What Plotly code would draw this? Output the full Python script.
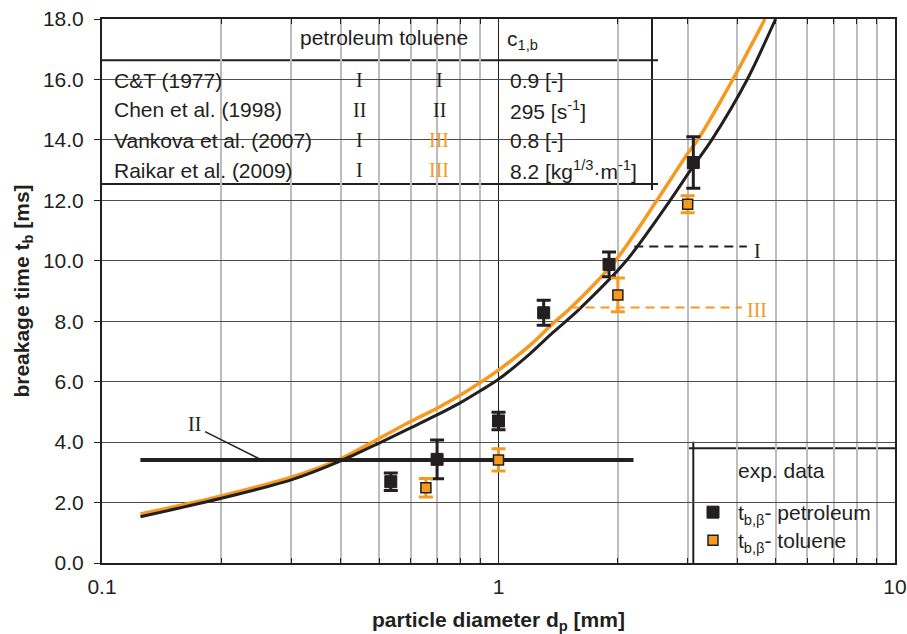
import numpy as np
import plotly.graph_objects as go

# ---------------- data ----------------
# model curves: particle diameter [mm] -> breakage time [ms]
d_model_pet = [0.125, 0.2, 0.3, 0.4, 0.5, 0.6, 0.7, 0.8, 0.9, 1.0, 1.2, 1.37, 1.59, 2.1, 2.71, 3.05, 3.45, 4.24, 5.0]
t_model_pet = [1.53, 2.14, 2.75, 3.38, 3.97, 4.47, 4.90, 5.30, 5.70, 6.08, 6.92, 7.62, 8.37, 10.0, 12.0, 13.0, 14.0, 16.0, 18.0]
d_model_tol = [0.125, 0.2, 0.3, 0.4, 0.5, 0.6, 0.7, 0.8, 0.9, 1.0, 1.2, 1.37, 1.50, 1.97, 2.51, 3.0, 3.18, 3.9, 4.7]
t_model_tol = [1.62, 2.22, 2.84, 3.45, 4.12, 4.68, 5.12, 5.55, 5.97, 6.38, 7.20, 7.92, 8.37, 10.0, 12.0, 13.55, 14.0, 16.0, 18.0]

# model II (Chen et al.): constant breakage time
d_model_chen = [0.125, 2.19]
t_model_chen = [3.41, 3.41]

# experimental data
d_exp_pet = [0.535, 0.70, 1.0, 1.30, 1.90, 3.10]
t_exp_pet = [2.69, 3.43, 4.70, 8.28, 9.88, 13.25]
e_exp_pet = [0.29, 0.64, 0.29, 0.41, 0.41, 0.85]
d_exp_tol = [0.656, 1.0, 2.0, 3.0]
t_exp_tol = [2.49, 3.41, 8.87, 11.87]
e_exp_tol = [0.31, 0.37, 0.56, 0.28]

# dashed label leaders
lead_I_d, lead_I_t = [2.2, 4.23], [10.47, 10.47]
lead_III_d, lead_III_t = [1.52, 4.11], [8.45, 8.45]

# table contents
tab_authors = ["C&T (1977)", "Chen et al. (1998)", "Vankova et al. (2007)", "Raikar et al. (2009)"]
tab_petroleum = ["I", "II", "I", "I"]
tab_toluene = ["I", "II", "III", "III"]
tab_c1b = ["0.9 [-]", "295 [s<sup>-1</sup>]", "0.8 [-]", "8.2 [kg<sup>1/3</sup>·m<sup>-1</sup>]"]

x_ticks = [0.1, 1, 10]
x_ticktext = ["0.1", "1", "10"]
x_minor = [k * 10.0 ** e for e in (-1, 0) for k in range(2, 10)]

# ---------------- style ----------------
BLACK = "#231F20"
ORANGE = "#F59A1F"
SANS = "Liberation Sans, Arial, sans-serif"
SERIF = "Liberation Serif, Times New Roman, serif"
W, H = 907, 634
ML, MR, MT, MB = 102, 12, 19, 71
PW, PH = W - ML - MR, H - MT - MB


def px(x):
    return (x - ML) / PW


def py(y):
    return (H - MB - y) / PH


fig = go.Figure()

fig.add_trace(go.Scatter(x=d_model_tol, y=t_model_tol, mode="lines",
                         line=dict(color=ORANGE, width=3.5, shape="spline", smoothing=0.8),
                         showlegend=False, hoverinfo="skip"))
fig.add_trace(go.Scatter(x=d_model_pet, y=t_model_pet, mode="lines",
                         line=dict(color=BLACK, width=3, shape="spline", smoothing=0.8),
                         showlegend=False, hoverinfo="skip"))
fig.add_trace(go.Scatter(x=d_model_chen, y=t_model_chen, mode="lines",
                         line=dict(color=BLACK, width=4),
                         showlegend=False, hoverinfo="skip"))
fig.add_trace(go.Scatter(x=lead_I_d, y=lead_I_t, mode="lines",
                         line=dict(color=BLACK, width=2, dash="9px,6px"),
                         showlegend=False, hoverinfo="skip"))
fig.add_trace(go.Scatter(x=lead_III_d, y=lead_III_t, mode="lines",
                         line=dict(color=ORANGE, width=2, dash="9px,6px"),
                         showlegend=False, hoverinfo="skip"))

fig.add_trace(go.Scatter(
    x=d_exp_pet, y=t_exp_pet, mode="markers", name="t<sub>b,β</sub>- petroleum", legend="legend",
    marker=dict(symbol="square", size=12, color=BLACK, line=dict(color=BLACK, width=1)),
    error_y=dict(type="data", array=e_exp_pet, color=BLACK, thickness=3, width=7),
))
fig.add_trace(go.Scatter(
    x=d_exp_tol, y=t_exp_tol, mode="markers", name="t<sub>b,β</sub>- toluene", legend="legend2",
    marker=dict(symbol="square", size=10, color=ORANGE, line=dict(color=BLACK, width=1.5)),
    error_y=dict(type="data", array=e_exp_tol, color=ORANGE, thickness=3, width=7),
))

shapes = []
# table box
shapes.append(dict(type="rect", xref="paper", yref="paper", x0=px(102), x1=px(652), y0=py(184), y1=py(19),
                   fillcolor="white", line=dict(width=0), layer="between"))
for (x0, y0, x1, y1) in [(652, 19, 652, 190), (102, 60.3, 658, 60.3), (102, 184, 658, 184)]:
    shapes.append(dict(type="line", xref="paper", yref="paper", x0=px(x0), y0=py(y0), x1=px(x1), y1=py(y1),
                       line=dict(color=BLACK, width=2), layer="between"))
# legend box
shapes.append(dict(type="rect", xref="paper", yref="paper", x0=px(693), x1=px(895), y0=py(563), y1=py(448),
                   fillcolor="white", line=dict(width=0), layer="between"))
for (x0, y0, x1, y1) in [(693.3, 441.7, 693.3, 563), (688.3, 448.3, 895, 448.3)]:
    shapes.append(dict(type="line", xref="paper", yref="paper", x0=px(x0), y0=py(y0), x1=px(x1), y1=py(y1),
                       line=dict(color=BLACK, width=2), layer="between"))
# leader for label II
shapes.append(dict(type="line", xref="paper", yref="paper", x0=px(205), y0=py(431.7), x1=px(261.7), y1=py(460),
                   line=dict(color=BLACK, width=1.5)))

ann = []


def text(x, y, s, anchor="left", font=SANS, size=21, color=BLACK):
    ann.append(dict(x=px(x), y=py(y), xref="paper", yref="paper", text=s, showarrow=False,
                    xanchor=anchor, yanchor="middle", font=dict(family=font, size=size, color=color)))


text(298, 37, "petroleum toluene")
text(505, 40, "c<sub>1,b</sub>")
rows_y = [80, 110, 140, 170]
for yy, a, p, t, c in zip(rows_y, tab_authors, tab_petroleum, tab_toluene, tab_c1b):
    text(112, yy, a)
    text(359, yy, p, anchor="center", font=SERIF, size=20, color=BLACK)
    text(439, yy, t, anchor="center", font=SERIF, size=20, color=ORANGE if t == "III" else BLACK)
    text(508, yy, c)

# curve labels
text(194, 424, "II", anchor="center", font=SERIF, size=20)
text(757, 251, "I", anchor="center", font=SERIF, size=20)
text(757, 310, "III", anchor="center", font=SERIF, size=20, color=ORANGE)
# legend header
text(736, 471, "exp. data")

legend_style = dict(xanchor="left", yanchor="top", bgcolor="rgba(0,0,0,0)", borderwidth=0,
                    font=dict(family=SANS, size=21, color=BLACK), itemsizing="trace", itemwidth=40)

fig.update_layout(
    width=W, height=H,
    margin=dict(l=ML, r=MR, t=MT, b=MB, pad=0),
    paper_bgcolor="white", plot_bgcolor="white",
    font=dict(family=SANS, size=21, color=BLACK),
    shapes=shapes, annotations=ann,
    showlegend=True,
    legend=dict(x=px(688), y=py(492), **legend_style),
    legend2=dict(x=px(688), y=py(520), **legend_style),
    # inward tick marks along the right frame
    yaxis2=dict(overlaying="y", side="right", range=[0, 18], dtick=2, tick0=0,
                ticks="inside", ticklen=6, tickcolor=BLACK, tickwidth=1,
                showticklabels=False, showgrid=False, showline=False, zeroline=False,
                automargin=False),
)

fig.update_xaxes(
    type="log", range=[-1, 1], tickvals=x_ticks, ticktext=x_ticktext, automargin=False,
    showline=True, linecolor=BLACK, linewidth=2, mirror="ticks",
    ticks="inside", ticklen=6, tickcolor=BLACK, tickwidth=1,
    showgrid=True, gridcolor=BLACK, gridwidth=1.2,
    minor=dict(tickvals=x_minor, ticks="inside", ticklen=5, tickcolor=BLACK, tickwidth=1,
               showgrid=True, gridcolor="#BDBDBD", gridwidth=2),
    tickfont=dict(family=SANS, size=21, color=BLACK), ticklabelstandoff=4,
    title=dict(text="particle diameter d<sub>p</sub> [mm]", standoff=16,
               font=dict(family=SANS, size=21, color=BLACK, weight="bold")),
    zeroline=False,
)
fig.update_yaxes(
    selector=dict(overlaying=None),
    range=[0, 18], dtick=2, tick0=0, tickformat=".1f", automargin=False,
    showline=True, linecolor=BLACK, linewidth=2, mirror=True,
    ticks="outside", ticklen=6, tickcolor=BLACK, tickwidth=1,
    showgrid=True, gridcolor="#4D4D4D", gridwidth=1.3,
    tickfont=dict(family=SANS, size=21, color=BLACK), ticklabelstandoff=6,
    title=dict(text="breakage time t<sub>b</sub> [ms]", standoff=8,
               font=dict(family=SANS, size=21, color=BLACK, weight="bold")),
    zeroline=False,
)

fig.write_html("out.html")
